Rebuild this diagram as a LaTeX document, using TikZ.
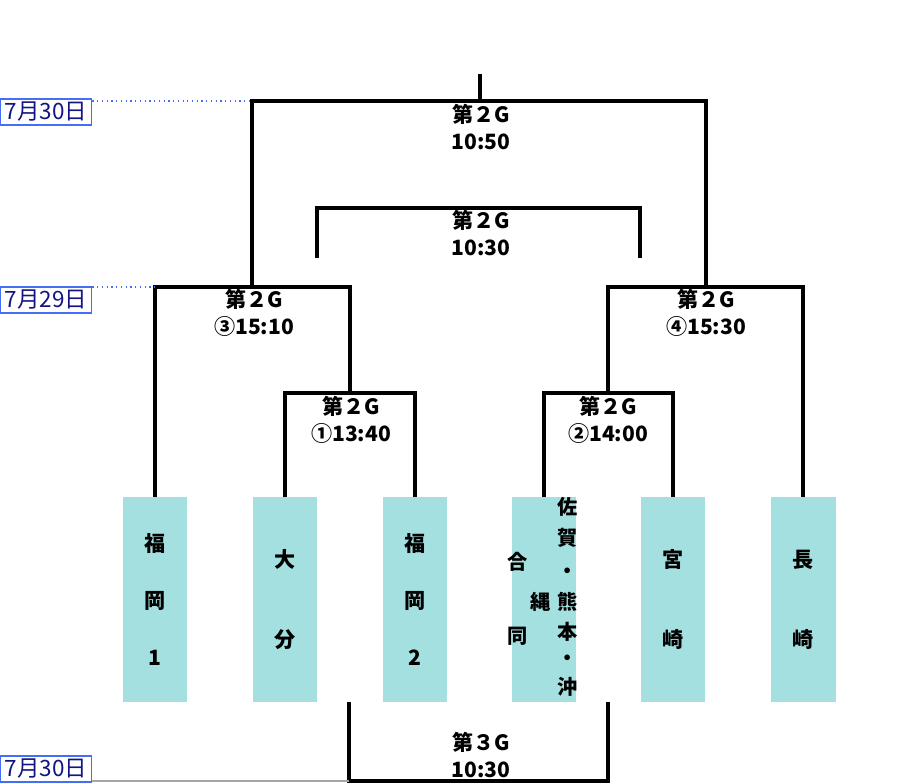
\documentclass[tikz,border=0pt]{standalone}
\usepackage{fontspec}
\setmainfont{Noto Sans CJK JP}
\definecolor{teambg}{RGB}{164,224,224}
\definecolor{datetext}{RGB}{20,20,130}
\definecolor{dateline}{RGB}{70,110,245}
\begin{document}
\begin{tikzpicture}[x=0.02cm,y=-0.02cm,
  bracket/.style={line width=2.1pt},
  team/.style={fill=teambg,minimum width=1.3cm,minimum height=4.1cm,inner sep=0pt,
    align=center,font=\fontsize{12pt}{32.5pt}\selectfont\bfseries},
  teamtwo/.style={team,font=\fontsize{12pt}{45.5pt}\selectfont\bfseries},
  gamelbl/.style={align=center,inner sep=0pt,font=\fontsize{12pt}{15.4pt}\selectfont\bfseries},
  datebox/.style={draw=dateline,line width=1pt,fill=white,text=datetext,inner sep=0pt,
    minimum width=1.82cm,minimum height=0.52cm,font=\fontsize{12.8pt}{14pt}\selectfont},
  dateguide/.style={draw=dateline,dotted,line width=0.7pt}]
\useasboundingbox (0,0) rectangle (900,784);

% teams
\node[team] (t1) at (155,599.5) {福\\岡\\1};
\node[teamtwo] (t2) at (285,599.5) {大\\分};
\node[team] (t3) at (415,599.5) {福\\岡\\2};
\node[team] (t4) at (544,599.5) {};
\node[teamtwo] (t5) at (673,599.5) {宮\\崎};
\node[teamtwo] (t6) at (803,599.5) {長\\崎};

% joint team, written in columns
\begin{scope}[font=\fontsize{11.5pt}{12pt}\selectfont\bfseries,inner sep=0pt]
\node (j1) at (568,507) {佐};
\node (j2) at (568,538) {賀};
\node (j3) at (568,573) {・};
\node (j4) at (568,602) {熊};
\node (j5) at (568,632) {本};
\node (j6) at (568,660) {・};
\node (j7) at (568,687) {沖};
\node (j8) at (541,602) {縄};
\node (j9) at (518,562) {合};
\node (j10) at (518,636) {同};
\end{scope}

% junctions
\coordinate (m1) at (350,393);
\coordinate (m2) at (608,393);
\coordinate (m3) at (252,287);
\coordinate (m4) at (706,287);
\coordinate (f) at (480,101);
\coordinate (ftop) at (480,74);
\coordinate (c0) at (480,208);
\coordinate (c1) at (317,258);
\coordinate (c2) at (640,258);
\coordinate (b0) at (480,781);
\coordinate (b1) at (349,702);
\coordinate (b2) at (608,702);

\draw[bracket] (t2.north) |- (m1) -| (t3.north);
\draw[bracket] (t4.north) |- (m2) -| (t5.north);
\draw[bracket] (t1.north) |- (m3) -| (m1);
\draw[bracket] (m2) |- (m4) -| (t6.north);
\draw[bracket] (m3) |- (f) -| (m4);
\draw[bracket] (f) -- (ftop);
\draw[bracket] (c1) |- (c0) -| (c2);
\draw[bracket] (b1) |- (b0) -| (b2);

% game labels
\node[gamelbl] (g0) at (481,127) {第２G\\10:50};
\node[gamelbl] (g5) at (481,233) {第２G\\10:30};
\node[gamelbl] (g3) at (254,313) {第２G\\③15:10};
\node[gamelbl] (g4) at (706,313) {第２G\\④15:30};
\node[gamelbl] (g1) at (351,420) {第２G\\①13:40};
\node[gamelbl] (g2) at (608,420) {第２G\\②14:00};
\node[gamelbl] (g6) at (481,755) {第３G\\10:30};

% dates
\node[datebox] (d1) at (46,112) {7月30日};
\node[datebox] (d2) at (46,300) {7月29日};
\node[datebox] (d3) at (46,769) {7月30日};
\draw[dateguide] (d1.north east |- f) -- (m3 |- f);
\draw[dateguide] (d2.north east |- m3) -- (t1.north |- m3);
\draw[gray!70,line width=0.6pt] (d3.south east |- b0) -- (b1 |- b0);
\end{tikzpicture}
\end{document}
